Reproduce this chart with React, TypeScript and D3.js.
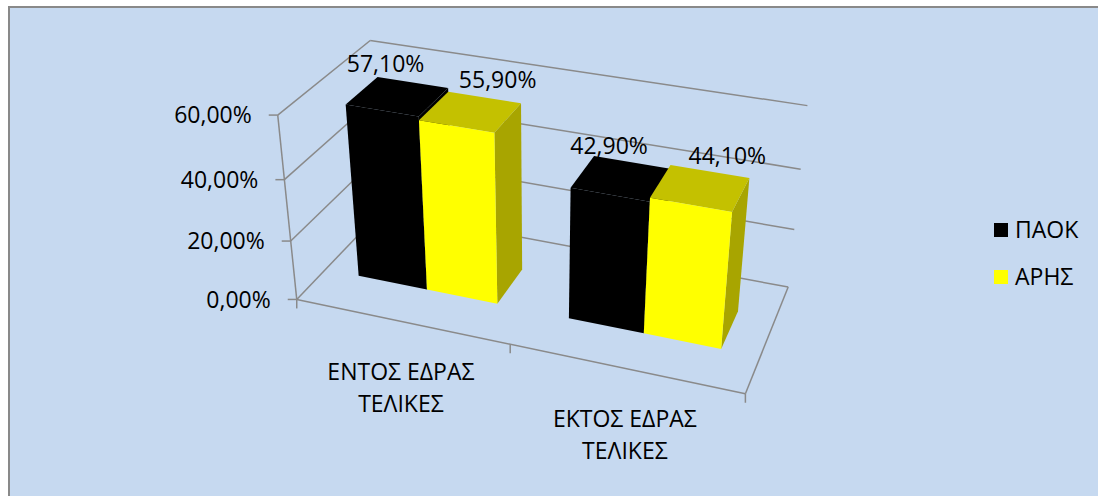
import React from "react";
import * as d3 from "d3";

// ---- data ----
const categoryLines: string[][] = [
  ["ΕΝΤΟΣ ΕΔΡΑΣ", "ΤΕΛΙΚΕΣ"],
  ["ΕΚΤΟΣ ΕΔΡΑΣ", "ΤΕΛΙΚΕΣ"],
];
const categories = ["ΕΝΤΟΣ ΕΔΡΑΣ ΤΕΛΙΚΕΣ", "ΕΚΤΟΣ ΕΔΡΑΣ ΤΕΛΙΚΕΣ"];
const seriesNames = ["ΠΑΟΚ", "ΑΡΗΣ"];
const paokValues = [0.571, 0.429];
const arisValues = [0.559, 0.441];
const valueTicks = [0, 0.2, 0.4, 0.6];

// ---- style ----
const frontColors = ["#000000", "#FFFF00"];
const topColors = ["#000000", "#C4C100"];
const sideColors = ["#000000", "#A8A500"];
const gridColor = "#8A8A8A";
const bgColor = "#C6D9F0";
const FONT = "'Open Sans', 'Noto Sans', sans-serif";
const FS = 23;

const W = 1098;
const H = 496;

// projection anchors: world (x frac, value, z frac) -> screen
const anchorWorld: [number, number, number][] = [
  [0, 0, 0], [0, 0.2, 0], [0, 0.4, 0], [0, 0.6, 0],
  [1, 0, 0],
  [1, 0, 1], [1, 0.2, 1], [1, 0.4, 1], [1, 0.6, 1],
  [0, 0, 1], [0, 0.6, 1],
];
const anchorScreen: [number, number][] = [
  [297, 299], [290, 241], [285, 180], [277, 116],
  [746, 393],
  [788, 288], [794, 230], [801, 169], [807, 105],
  [381, 211], [371, 40],
];

const yScale = d3.scaleLinear().domain([0, 0.6]).range([0, 1]);

function solve(A: number[][], b: number[]): number[] {
  const n = b.length;
  const M = A.map((r, i) => [...r, b[i]]);
  for (let c = 0; c < n; c++) {
    let p = c;
    for (let r = c + 1; r < n; r++) if (Math.abs(M[r][c]) > Math.abs(M[p][c])) p = r;
    [M[c], M[p]] = [M[p], M[c]];
    for (let r = 0; r < n; r++) {
      if (r === c) continue;
      const f = M[r][c] / M[c][c];
      for (let k = c; k <= n; k++) M[r][k] -= f * M[c][k];
    }
  }
  return M.map((r, i) => r[n] / r[i]);
}

function buildProjection() {
  const rows: number[][] = [];
  const rhs: number[] = [];
  anchorWorld.forEach(([xf, v, zf], i) => {
    const X = xf, Y = yScale(v), Z = zf;
    const [u, w] = anchorScreen[i];
    rows.push([X, Y, Z, 1, 0, 0, 0, 0, -u * X, -u * Y, -u * Z]);
    rhs.push(u);
    rows.push([0, 0, 0, 0, X, Y, Z, 1, -w * X, -w * Y, -w * Z]);
    rhs.push(w);
  });
  const n = 11;
  const AtA = Array.from({ length: n }, () => new Array(n).fill(0));
  const Atb = new Array(n).fill(0);
  rows.forEach((r, k) => {
    for (let i = 0; i < n; i++) {
      Atb[i] += r[i] * rhs[k];
      for (let j = 0; j < n; j++) AtA[i][j] += r[i] * r[j];
    }
  });
  const p = solve(AtA, Atb);
  return (X: number, Y: number, Z: number): [number, number] => {
    const d = p[8] * X + p[9] * Y + p[10] * Z + 1;
    return [
      (p[0] * X + p[1] * Y + p[2] * Z + p[3]) / d,
      (p[4] * X + p[5] * Y + p[6] * Z + p[7]) / d,
    ];
  };
}

const proj = buildProjection();
const fmt = d3.formatLocale({ decimal: ",", thousands: ".", grouping: [3], currency: ["", "€"] }).format(".2%");

const xBand = d3.scaleBand<string>().domain(categories).range([0, 1]).paddingInner(0.33).paddingOuter(0.165);
const sBand = d3.scaleBand<string>().domain(seriesNames).range([0, xBand.bandwidth()]);
const Z0 = 0.32;
const Z1 = 0.68;
const labelDx = [-12, 27];
const labelDy = -32;

const poly = (pts: [number, number, number][]) =>
  pts.map((p) => proj(p[0], p[1], p[2]).map((n) => n.toFixed(2)).join(",")).join(" ");

export default function App() {
  const seriesValues = [paokValues, arisValues];
  const bars: { ci: number; si: number; x0: number; x1: number; h: number; v: number }[] = [];
  categories.forEach((c, ci) => {
    seriesNames.forEach((s, si) => {
      const x0 = (xBand(c) as number) + (sBand(s) as number);
      const v = seriesValues[si][ci];
      bars.push({ ci, si, x0, x1: x0 + sBand.bandwidth(), h: yScale(v), v });
    });
  });
  bars.sort((a, b) => a.x0 - b.x0);

  const line = (a: [number, number], b: [number, number], key: string) => (
    <line key={key} x1={a[0]} y1={a[1]} x2={b[0]} y2={b[1]} stroke={gridColor} strokeWidth={1.5} />
  );

  return (
    <div style={{ position: "absolute", left: 0, top: 0 }}>
      <svg width={W} height={H} style={{ display: "block" }}>
        <rect x={0} y={0} width={W} height={H} fill="#ffffff" />
        <rect x={9} y={7} width={W + 20} height={H + 20} fill={bgColor} stroke="#898989" strokeWidth={2} />
        {/* walls grid */}
        {valueTicks.map((t, i) => {
          const Y = yScale(t);
          return (
            <g key={"g" + i}>
              {line(proj(0, Y, 0), proj(0, Y, 1), "lw" + i)}
              {line(proj(0, Y, 1), proj(1, Y, 1), "bw" + i)}
            </g>
          );
        })}
        {/* floor edges */}
        {line(proj(0, 0, 0), proj(1, 0, 0), "ff")}
        {line(proj(1, 0, 0), proj(1, 0, 1), "fr")}
        {/* value axis */}
        {line(proj(0, 0, 0), proj(0, 1, 0), "va")}
        {valueTicks.map((t, i) => {
          const p = proj(0, yScale(t), 0);
          return (
            <g key={"vt" + i}>
              {line([p[0] - 9, p[1]], p, "vtl" + i)}
              <text x={p[0] - 26} y={p[1]} dy="0.36em" textAnchor="end" fontFamily={FONT} fontSize={FS} fill="#000">
                {fmt(t)}
              </text>
            </g>
          );
        })}
        {/* category ticks */}
        {[0, 0.5, 1].map((xf, i) => {
          const p = proj(xf, 0, 0);
          return line(p, [p[0], p[1] + 9], "ct" + i);
        })}
        {/* category labels */}
        {categories.map((c, ci) => {
          const p = proj((xBand(c) as number) + xBand.bandwidth() / 2, 0, 0);
          return (
            <text key={"cl" + ci} textAnchor="middle" fontFamily={FONT} fontSize={FS} fill="#000">
              {categoryLines[ci].map((l, li) => (
                <tspan key={li} x={p[0]} y={p[1] + 50 + li * 32} dy="0.36em">
                  {l}
                </tspan>
              ))}
            </text>
          );
        })}
        {/* bars */}
        {bars.map((b, i) => (
          <g key={"b" + i}>
            <polygon
              points={poly([[b.x1, 0, Z0], [b.x1, 0, Z1], [b.x1, b.h, Z1], [b.x1, b.h, Z0]])}
              fill={sideColors[b.si]}
            />
            <polygon
              points={poly([[b.x0, b.h, Z0], [b.x1, b.h, Z0], [b.x1, b.h, Z1], [b.x0, b.h, Z1]])}
              fill={topColors[b.si]}
            />
            <polygon
              points={poly([[b.x0, 0, Z0], [b.x1, 0, Z0], [b.x1, b.h, Z0], [b.x0, b.h, Z0]])}
              fill={frontColors[b.si]}
            />
          </g>
        ))}
        {/* data labels */}
        {bars.map((b, i) => {
          const p = proj((b.x0 + b.x1) / 2, b.h, (Z0 + Z1) / 2);
          return (
            <text key={"dl" + i} x={p[0] + labelDx[b.si]} y={p[1] + labelDy} dy="0.36em" textAnchor="middle" fontFamily={FONT} fontSize={FS} fill="#000">
              {fmt(b.v)}
            </text>
          );
        })}
        {/* legend */}
        {seriesNames.map((s, si) => (
          <g key={"lg" + si} transform={`translate(994, ${230 + si * 47})`}>
            <rect x={0} y={-7} width={14} height={14} fill={frontColors[si]} />
            <text x={21} y={0} dy="0.36em" fontFamily={FONT} fontSize={FS} fill="#000">
              {s}
            </text>
          </g>
        ))}
      </svg>
    </div>
  );
}
